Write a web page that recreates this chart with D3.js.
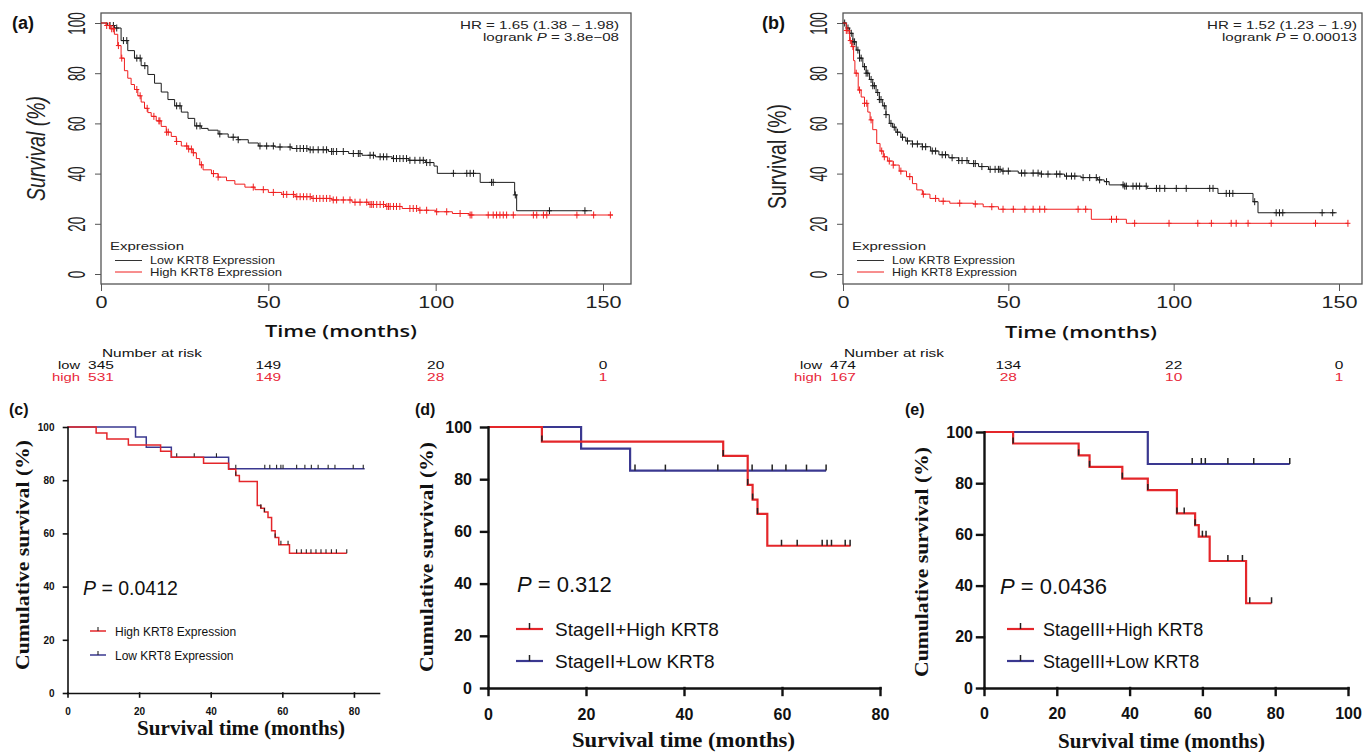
<!DOCTYPE html>
<meta charset='utf-8'>
<style>
  body { margin: 0; background: #fff; }
  svg text { font-family: 'Liberation Sans', Arial, Helvetica, sans-serif; }
  .serif { font-family: 'Liberation Serif', 'Times New Roman', serif !important; font-weight: bold; }
</style>
<body>
<div id='viz'></div>
<script src='https://d3js.org/d3.v7.min.js'></script>
<script>

// ---------- data ----------
// (a) and (b): Kaplan-Meier, months vs survival (%)
var kmTicksX = [0, 50, 100, 150];
var kmTicksY = [0, 20, 40, 60, 80, 100];
var riskTimes = [0, 50, 100, 150];

var aLowT = [0, 2, 4, 6, 8, 10, 12, 14, 16, 18, 20, 22, 24, 26, 28, 30, 32, 35, 38, 41, 44, 47, 52, 57, 62, 68, 74, 78, 82, 87, 92, 97, 99.5, 100.5, 113.3, 123.6, 124.2, 146.7];
var aLowS = [100, 99, 98, 93, 89, 86, 83, 79.5, 76, 72.5, 69.5, 67, 64.5, 62, 59, 58, 57.3, 55.8, 54.5, 53.5, 52.2, 51, 50.6, 50, 49.5, 48.8, 48, 47.3, 46.7, 46, 45.3, 44.4, 43, 40.1, 36.5, 31.5, 25.2, 25.2];
var aLowCens = [2.7, 3.7, 4.7, 6.7, 7.7, 10.7, 11.7, 13.1, 22.6, 23.6, 28.6, 29.6, 35.5, 39.5, 41, 47.5, 49.5, 51.5, 53.5, 56.5, 58.5, 59.5, 60.5, 61.5, 62.5, 63.4, 64.9, 66.4, 67.4, 68.9, 69.4, 70.4, 72.4, 75.4, 76.9, 77.4, 80.4, 81.4, 83.4, 84.4, 85.4, 87.4, 88.3, 89.3, 90.3, 91.3, 92.3, 93.8, 95.3, 96.3, 97.3, 98.3, 105.3, 109.3, 110.3, 111.3, 116.7, 117.2, 123.8, 134, 144.6];

var aHighT = [0, 1.5, 2.7, 4, 5, 6, 7, 8, 9, 10, 11, 12, 13, 14, 15, 16.5, 18, 19.5, 21, 22.5, 24, 26, 27.5, 28.5, 29.5, 30.5, 33, 35, 37.5, 40, 43, 46, 50, 54, 58, 63, 69, 75, 80, 85, 90, 95, 100, 105, 110, 153];
var aHighS = [100, 99, 97.7, 95.5, 91, 86, 81, 78, 75.5, 73.5, 71, 68.5, 66, 64.3, 62.8, 61, 58.8, 56.5, 54.8, 52.8, 51, 49.8, 48.3, 46, 43.5, 41.5, 40, 38.6, 37.2, 35.8, 34.6, 33.6, 32.5, 31.7, 30.8, 30.1, 29.5, 28.6, 27.7, 26.9, 26.1, 25.4, 24.8, 24.1, 23.5, 23.5];
var aHighCens = [1.7, 2.5, 3.2, 3.7, 5.2, 6.2, 10.7, 11.7, 13.8, 15.8, 17.3, 17.6, 19.6, 20.1, 22.6, 25.6, 26.2, 27, 27.6, 30, 33.6, 35, 45.5, 48.5, 51.5, 54.5, 55.5, 57.5, 58.5, 59.5, 60.5, 61.5, 62.5, 63.4, 64.4, 65.4, 66.4, 67.4, 68.4, 69.4, 70.4, 72.4, 74.4, 75.9, 77.4, 79.4, 80.4, 80.9, 81.4, 82.4, 83.4, 84.4, 85.4, 85.9, 86.4, 87.4, 88.3, 89.3, 92.3, 93.3, 94.3, 95.3, 97.3, 100.3, 103.3, 107.3, 110.3, 110.8, 115.7, 117.2, 118.2, 119.2, 120.2, 121.2, 123.2, 129.2, 130.2, 132.2, 133.2, 142.2, 147.2, 152.2];

var aRiskLow = [345, 149, 20, 0];
var aRiskHigh = [531, 149, 28, 1];

var bLowT = [0, 1, 2, 3, 4, 5, 6, 7, 8, 9, 10, 11, 12, 13, 14, 15, 16, 17.5, 19, 21, 24, 26.5, 29, 32, 35, 38, 41, 44, 48, 53, 60, 67, 72, 77, 79, 80.5, 85, 92, 113.4, 124, 125.5, 149.3];
var bLowS = [100, 98, 95.9, 92.5, 89.2, 86, 82.6, 80, 77.5, 75, 72.3, 69.5, 67, 63.5, 60, 58.5, 56.5, 54.5, 53, 51.8, 50.7, 49, 47.5, 46.3, 45.2, 44, 42.8, 41.7, 41, 40.2, 39.8, 39, 38.4, 37.5, 36.8, 35.5, 35, 34.1, 32.1, 28.8, 24.4, 24.4];
var bLowCens = [0.5, 1.5, 2.5, 3, 3.5, 4.5, 5, 5.5, 6.5, 7, 7.5, 8.5, 9, 9.5, 10.5, 11, 11.5, 12.5, 13, 14.5, 15.5, 16.5, 18, 19.5, 21, 22.5, 24, 25, 27, 28, 30, 31, 33, 35, 36, 37.5, 39.5, 40, 42, 44.5, 46, 47, 47.5, 48.4, 50, 54, 55, 57.5, 59, 60, 62, 64.6, 65.6, 67.6, 69.1, 70.1, 72.6, 74.6, 76.6, 77.6, 79.7, 84.7, 85.2, 85.7, 87.7, 88.7, 89.7, 91.7, 94.8, 95.8, 97.3, 100.8, 103.8, 110.9, 111.9, 115.9, 116.9, 117.9, 124.5, 131, 132, 133, 144.9, 148.1];

var bHighT = [0, 1, 2, 2.6, 3.2, 3.6, 4.6, 5.5, 6.5, 7.5, 8.2, 9, 10.2, 11.2, 12.2, 13.5, 15.2, 17, 19.2, 21, 22.3, 24, 26.3, 29, 32.3, 39.4, 42.4, 47, 75.1, 85.7, 152.7];
var bHighS = [100, 97, 93, 90.6, 85, 80, 73.3, 70.5, 68, 64.5, 61.4, 57.5, 52, 49, 46.7, 45, 43.4, 41, 38.8, 36, 33.5, 31.8, 30.1, 29, 28.2, 27.9, 26.8, 25.8, 21.8, 20.2, 20.2];
var bHighCens = [1, 1.5, 2.2, 3, 4, 5, 6.5, 7.2, 8.5, 11.7, 12.5, 14, 15.2, 17.5, 20.2, 24.3, 28, 30.3, 35.3, 40, 45, 48.4, 51.5, 55, 57.5, 59.5, 61, 71.1, 73.4, 81.2, 82.7, 88.2, 98.6, 107.3, 111.4, 117.4, 118.9, 122.5, 129.5, 142.9, 152.7];

var bRiskLow = [474, 134, 22, 0];
var bRiskHigh = [167, 28, 10, 1];

// (c), (d), (e): cumulative survival (%)
var gpTicksY = [0, 20, 40, 60, 80, 100];
var cdTicksX = [0, 20, 40, 60, 80];
var eTicksX = [0, 20, 40, 60, 80, 100];

var cHighT = [0, 8, 11, 17, 26, 29, 38, 45, 47, 48, 53, 54, 55, 56, 57, 58, 59, 62, 78];
var cHighS = [100, 97.7, 95.5, 93.2, 90.9, 88.6, 86.4, 84.1, 81.8, 79.5, 70.5, 69.5, 68, 66, 61, 58.5, 55.7, 52.5, 52.5];
var cHighCens = [47, 54, 55, 58, 59.6, 61.6, 64, 65.3, 66.7, 68, 69.4, 70.8, 72.2, 73.7, 75.1, 78];
var cLowT = [0, 19, 22, 29, 45, 83];
var cLowS = [100, 96.2, 92.4, 88.6, 84.3, 84.3];
var cLowCens = [30.5, 35.4, 41.6, 47, 55.1, 56.5, 58.4, 59.6, 60.2, 64, 66.3, 68.1, 70, 72.8, 74.7, 79.8, 82.6];

var dHighT = [0, 11, 48, 53, 54, 55, 57, 74];
var dHighS = [100, 94.4, 88.9, 77.8, 72.2, 66.7, 54.5, 54.5];
var dHighCens = [11, 48, 53, 54, 55, 59.9, 63.1, 68.2, 69.2, 70.1, 72.9, 73.9];
var dLowT = [0, 19, 29, 69];
var dLowS = [100, 91.7, 83.3, 83.3];
var dLowCens = [30, 36.2, 46.9, 53.9, 58, 60.8, 65, 69];

var eHighT = [0, 8, 26, 29, 38, 45, 53, 58, 59, 62, 72, 79];
var eHighS = [100, 95.5, 90.9, 86.4, 81.8, 77.3, 68.2, 63.6, 59.1, 49.6, 33.1, 33.1];
var eHighCens = [8, 26, 29, 38, 45, 53, 55, 58, 60, 61, 67, 71, 73, 79];
var eLowT = [0, 45, 84];
var eLowS = [100, 87.5, 87.5];
var eLowCens = [57.2, 59.7, 60.8, 67, 74.1, 84];

// ---------- drawing ----------
var RED = '#f01f1f', INK = '#1c1c1c', GRED = '#e4262a', NAVY = '#3a3890';

var svg = d3.select('#viz').append('svg')
    .attr('width', 1363)
    .attr('height', 752);

function survAt(T, S, t) {
  var i = d3.bisectRight(T, t) - 1;
  return S[Math.max(0, i)];
}

// text squeezed / stretched to a measured width
function fitText(g, x, y, str, size, len, color) {
  return g.append('text')
    .attr('x', x).attr('y', y)
    .attr('textLength', len).attr('lengthAdjust', 'spacingAndGlyphs')
    .style('font-size', size + 'px')
    .attr('fill', color || INK)
    .text(str);
}

function kmPanel(p) {
  var g = svg.append('g');
  var x = d3.scaleLinear().domain([0, 150]).range([p.left, p.x150]);
  var y = d3.scaleLinear().domain([0, 100]).range([274, 23]);

  g.append('rect')
    .attr('x', p.left).attr('y', 13)
    .attr('width', p.right - p.left).attr('height', 271)
    .attr('fill', 'none').attr('stroke', '#555').attr('stroke-width', 1.3);

  var ya = g.append('g')
    .attr('transform', 'translate(' + p.left + ',0)')
    .call(d3.axisLeft(y).tickValues(kmTicksY).tickSize(6).tickSizeOuter(0));
  ya.select('.domain').remove();
  ya.selectAll('line').attr('stroke', '#555');
  ya.selectAll('text')
    .attr('x', null).attr('dy', null)
    .attr('text-anchor', 'middle')
    .attr('transform', 'translate(-16,0) rotate(-90) scale(0.58,1)')
    .attr('fill', '#222')
    .style('font-size', '23px');

  var xa = g.append('g')
    .attr('transform', 'translate(0,284)')
    .call(d3.axisBottom(x).tickValues(kmTicksX).tickSize(7).tickSizeOuter(0));
  xa.select('.domain').remove();
  xa.selectAll('line').attr('stroke', '#555');
  xa.selectAll('text')
    .attr('y', 24).attr('dy', null)
    .attr('transform', 'scale(1.35,1)')
    .attr('fill', '#222')
    .style('font-size', '16px');

  // y title
  g.append('text')
    .attr('transform', 'translate(' + p.ytX + ',' + (p.ytY + 52) + ') rotate(-90)')
    .attr('textLength', 105).attr('lengthAdjust', 'spacingAndGlyphs')
    .style('font-family', "'Liberation Sans Narrow', 'Liberation Sans', sans-serif")
    .style('font-size', '26px')
    .style('font-style', p.italic ? 'italic' : 'normal')
    .attr('fill', '#222')
    .text('Survival (%)');

  // x title
  fitText(g, p.xtX, p.xtY, 'Time (months)', 17, 152, '#111')
    .style('font-family', "'Open Sans', sans-serif").style('font-weight', 600);

  var line = d3.line()
    .x(function(d) { return x(d[0]); })
    .y(function(d) { return y(d[1]); })
    .curve(d3.curveStepAfter);

  [[p.lowT, p.lowS, p.lowC, INK], [p.highT, p.highS, p.highC, RED]].forEach(function(s) {
    var T = s[0], S = s[1], col = s[3];
    g.append('path')
      .attr('d', line(T.map(function(t, i) { return [t, S[i]]; })))
      .attr('fill', 'none').attr('stroke', col).attr('stroke-width', 1);
    var c = g.append('g').attr('stroke', col).attr('stroke-width', 1);
    s[2].forEach(function(t) {
      var cx = x(t), cy = y(survAt(T, S, t));
      c.append('line').attr('x1', cx).attr('x2', cx).attr('y1', cy - 3.5).attr('y2', cy + 3.5);
      c.append('line').attr('x1', cx - 2.5).attr('x2', cx + 2.5).attr('y1', cy).attr('y2', cy);
    });
  });

  // HR text
  fitText(g, p.hrRight - p.hrLen, 28.5, p.hr, 11, p.hrLen, '#222');
  var lr = g.append('text')
    .attr('x', p.hrRight - p.lrLen).attr('y', 40.5)
    .attr('textLength', p.lrLen).attr('lengthAdjust', 'spacingAndGlyphs')
    .style('font-size', '11px').attr('fill', '#222');
  lr.append('tspan').text('logrank ');
  lr.append('tspan').style('font-style', 'italic').text('P');
  lr.append('tspan').text(' = ' + p.lr);

  // legend
  fitText(g, p.legX, 250, 'Expression', 11, 74, '#222');
  g.append('line').attr('x1', p.legX + 5).attr('x2', p.legX + 32).attr('y1', 260.5).attr('y2', 260.5)
    .attr('stroke', '#333').attr('stroke-width', 1);
  g.append('line').attr('x1', p.legX + 5).attr('x2', p.legX + 32).attr('y1', 272).attr('y2', 272)
    .attr('stroke', RED).attr('stroke-width', 1);
  fitText(g, p.legX + 40, 264, 'Low KRT8 Expression', 10.5, p.legLen[0], '#222');
  fitText(g, p.legX + 40, 276, p.highLabel, 10.5, p.legLen[1], '#222');

  // number at risk
  fitText(g, p.left + 1, 357, 'Number at risk', 11, 100, '#111');
  fitText(g, p.left - 43, 368.5, 'low', 11, 22, '#111');
  fitText(g, p.left - 49, 380.5, 'high', 11, 28, '#e8283a');
  riskTimes.forEach(function(t, i) {
    var a = String(p.riskLow[i]), b = String(p.riskHigh[i]);
    fitText(g, x(t) - a.length * 4.3, 368.5, a, 11, a.length * 8.6, '#111');
    fitText(g, x(t) - b.length * 4.3, 380.5, b, 11, b.length * 8.6, '#e8283a');
  });

  // panel label
  g.append('text').attr('x', p.labX).attr('y', 29)
    .style('font-size', '18px').style('font-weight', 'bold').attr('fill', '#111')
    .text(p.label);
}

kmPanel({
  label: '(a)', labX: 12, left: 101, x150: 603, right: 631,
  ytX: 45, ytY: 149, italic: true, xtX: 265, xtY: 337,
  lowT: aLowT, lowS: aLowS, lowC: aLowCens,
  highT: aHighT, highS: aHighS, highC: aHighCens,
  hr: 'HR = 1.65 (1.38 \u2212 1.98)', hrRight: 619, hrLen: 159,
  lr: '3.8e\u221208', lrLen: 136,
  legX: 110, legLen: [125, 132], highLabel: 'High  KRT8 Expression',
  riskLow: aRiskLow, riskHigh: aRiskHigh
});

kmPanel({
  label: '(b)', labX: 762, left: 843, x150: 1339, right: 1362,
  ytX: 786, ytY: 157, italic: false, xtX: 1005, xtY: 338,
  lowT: bLowT, lowS: bLowS, lowC: bLowCens,
  highT: bHighT, highS: bHighS, highC: bHighCens,
  hr: 'HR = 1.52 (1.23 \u2212 1.9)', hrRight: 1357, hrLen: 150,
  lr: '0.00013', lrLen: 135,
  legX: 852, legLen: [123, 125], highLabel: 'High KRT8 Expression',
  riskLow: bRiskLow, riskHigh: bRiskHigh
});

function gpPanel(p) {
  var g = svg.append('g');
  var x = d3.scaleLinear().domain([0, p.xmax]).range([p.x0, p.x1]);
  var y = d3.scaleLinear().domain([0, 100]).range([p.yb, p.yt]);

  var line = d3.line()
    .x(function(d) { return x(d[0]); })
    .y(function(d) { return y(d[1]); })
    .curve(d3.curveStepAfter);

  [[p.lowT, p.lowS, p.lowC, NAVY], [p.highT, p.highS, p.highC, GRED]].forEach(function(s) {
    var T = s[0], S = s[1];
    g.append('path')
      .attr('d', line(T.map(function(t, i) { return [t, S[i]]; })))
      .attr('fill', 'none').attr('stroke', s[3]).attr('stroke-width', p.lw);
    s[2].forEach(function(t) {
      var cx = x(t), cy = y(survAt(T, S, t));
      g.append('line').attr('x1', cx).attr('x2', cx).attr('y1', cy).attr('y2', cy - p.cl)
        .attr('stroke', '#222').attr('stroke-width', p.cw);
    });
  });

  var ya = g.append('g')
    .attr('transform', 'translate(' + p.x0 + ',0)')
    .call(d3.axisLeft(y).tickValues(gpTicksY).tickSize(p.ts).tickSizeOuter(0).tickPadding(p.yPad));
  var xa = g.append('g')
    .attr('transform', 'translate(0,' + p.yb + ')')
    .call(d3.axisBottom(x).tickValues(p.ticksX).tickSize(p.ts).tickSizeOuter(0));
  [ya, xa].forEach(function(a) {
    a.selectAll('path, line').attr('stroke', '#111').attr('stroke-width', p.aw).attr('stroke-linecap', 'square');
    a.selectAll('text').attr('fill', '#111')
      .style('font-size', p.fs + 'px').style('font-weight', 'bold');
  });
  xa.selectAll('text').attr('y', p.xBase).attr('dy', null);

  // titles
  g.append('text')
    .attr('class', 'serif')
    .attr('transform', 'translate(' + p.ytX + ',' + (p.ytY + 115) + ') rotate(-90)')
    .attr('textLength', 230).attr('lengthAdjust', 'spacingAndGlyphs')
    .style('font-size', '18px').attr('fill', '#111')
    .text('Cumulative survival (%)');
  fitText(g, p.xtX, p.xtY, 'Survival time (months)', 20, p.xtLen, '#111').attr('class', 'serif');

  // p-value
  var pt = g.append('text').attr('x', p.pX).attr('y', p.pY)
    .style('font-size', p.pfs + 'px').attr('fill', '#111');
  pt.append('tspan').style('font-style', 'italic').text('P');
  pt.append('tspan').text(' = ' + p.pval);

  // legend
  [[p.legHigh, GRED, p.legY[0]], [p.legLow, NAVY, p.legY[1]]].forEach(function(l) {
    g.append('line').attr('x1', p.legX).attr('x2', p.legX + p.legW).attr('y1', l[2]).attr('y2', l[2])
      .attr('stroke', l[1]).attr('stroke-width', p.lw);
    g.append('line').attr('x1', p.legX + p.legW / 2).attr('x2', p.legX + p.legW / 2)
      .attr('y1', l[2]).attr('y2', l[2] - p.cl)
      .attr('stroke', '#222').attr('stroke-width', p.cw);
    g.append('text').attr('x', p.legX + p.legW + p.legGap).attr('y', l[2] + p.legDy)
      .style('font-size', p.lfs + 'px').attr('fill', '#111')
      .text(l[0]);
  });

  g.append('text').attr('x', p.labX).attr('y', 415)
    .style('font-size', '16px').style('font-weight', 'bold').attr('fill', '#111')
    .text(p.label);
}

gpPanel({
  label: '(c)', labX: 9,
  x0: 67.5, x1: 379, xmax: 87, yb: 693, yt: 427, ticksX: cdTicksX,
  ts: 4, yPad: 9, xBase: 22, fs: 10, aw: 1.6, lw: 1.5, cw: 1.1, cl: 4,
  lowT: cLowT, lowS: cLowS, lowC: cLowCens,
  highT: cHighT, highS: cHighS, highC: cHighCens,
  ytX: 29, ytY: 555, xtX: 137, xtY: 735, xtLen: 208,
  pX: 83, pY: 595, pfs: 19.5, pval: '0.0412',
  legX: 90, legW: 16, legGap: 9, legY: [631, 655], legDy: 5, lfs: 12,
  legHigh: 'High KRT8 Expression', legLow: 'Low KRT8 Expression'
});

gpPanel({
  label: '(d)', labX: 415,
  x0: 488, x1: 880, xmax: 80, yb: 688, yt: 427, ticksX: cdTicksX,
  ts: 7, yPad: 9, xBase: 32, fs: 16, aw: 2.4, lw: 2.2, cw: 1.5, cl: 6,
  lowT: dLowT, lowS: dLowS, lowC: dLowCens,
  highT: dHighT, highS: dHighS, highC: dHighCens,
  ytX: 433, ytY: 557, xtX: 572, xtY: 747, xtLen: 223,
  pX: 517, pY: 592, pfs: 22, pval: '0.312',
  legX: 516, legW: 27, legGap: 12, legY: [629, 661], legDy: 7, lfs: 19,
  legHigh: 'StageII+High KRT8', legLow: 'StageII+Low KRT8'
});

gpPanel({
  label: '(e)', labX: 905,
  x0: 984, x1: 1348, xmax: 100, yb: 688, yt: 432, ticksX: eTicksX,
  ts: 7, yPad: 4, xBase: 31, fs: 16, aw: 2.4, lw: 2.2, cw: 1.5, cl: 6,
  lowT: eLowT, lowS: eLowS, lowC: eLowCens,
  highT: eHighT, highS: eHighS, highC: eHighCens,
  ytX: 928, ytY: 562, xtX: 1058, xtY: 748, xtLen: 207,
  pX: 1000, pY: 594, pfs: 22, pval: '0.0436',
  legX: 1007, legW: 27, legGap: 9, legY: [629, 661], legDy: 7, lfs: 18,
  legHigh: 'StageIII+High KRT8', legLow: 'StageIII+Low KRT8'
});

</script>
</body>
